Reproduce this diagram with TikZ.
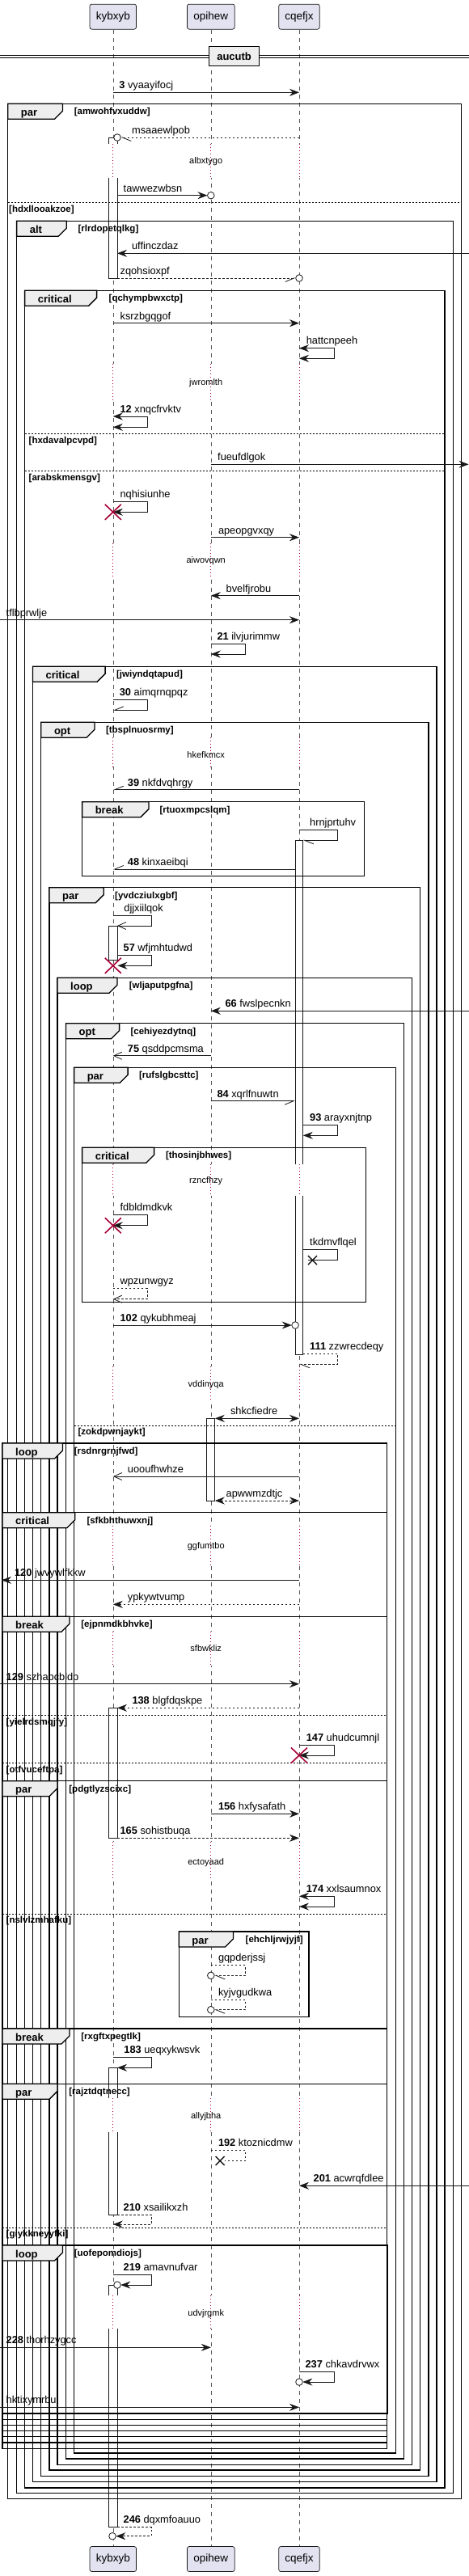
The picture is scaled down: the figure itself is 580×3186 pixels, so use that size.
\documentclass[tikz,border=0pt]{standalone}
\usepackage{fontspec}
\setmainfont{Liberation Sans}
\usetikzlibrary{arrows.meta}
\definecolor{partfill}{HTML}{E2E2F0}
\definecolor{tabfill}{HTML}{EEEEEE}
\definecolor{xred}{HTML}{A80036}
\definecolor{lline}{HTML}{181818}
\tikzset{
 lifeline/.style={draw=black!65, line width=0.6pt, dash pattern=on 5pt off 5pt},
 delayline/.style={draw=xred, line width=0.8pt, dash pattern=on 1pt off 3pt},
 part/.style={draw=lline, line width=0.7pt, fill=partfill, rounded corners=2.5pt, minimum height=31pt, inner sep=0pt, font=\fontsize{13.5}{15}\selectfont},
 msg/.style={draw=lline, line width=0.8pt},
 dmsg/.style={msg, dash pattern=on 2.5pt off 2.5pt},
 fa/.style={-{Stealth[length=12pt,width=9pt,inset=4pt]}},
 fab/.style={{Stealth[length=12pt,width=9pt,inset=4pt]}-{Stealth[length=12pt,width=9pt,inset=4pt]}},
 oa/.style={-{Straight Barb[length=10pt,width=9pt]}},
 hal/.style={-{Straight Barb[length=11pt,width=9pt,left]}},
 har/.style={-{Straight Barb[length=11pt,width=9pt,right]}},
 lbl/.style={anchor=base west, inner sep=0pt, font=\fontsize{12.8}{15}\selectfont},
 act/.style={draw=lline, line width=0.8pt, fill=white},
 frline/.style={draw=black, line width=1.3pt},
 elseline/.style={draw=black, line width=0.8pt, dash pattern=on 2pt off 2pt},
 tablbl/.style={anchor=base west, inner sep=0pt, font=\bfseries\fontsize{13}{15}\selectfont},
 condlbl/.style={anchor=base west, inner sep=0pt, font=\bfseries\fontsize{11.5}{13}\selectfont},
 dlbl/.style={inner sep=0pt, font=\fontsize{11}{13}\selectfont},
 circ/.style={draw=lline, line width=0.8pt, fill=white},
}
% frame: x0,y0,x1,y1,tabright,tablabel,cond,condx
\newcommand\frm[8]{%
 \draw[frline] (#1,#2) rectangle (#3,#4);
 \draw[frline,fill=tabfill] (#1,#2) -- (#5,#2) -- (#5,#2+9) -- (#5-10,#2+19) -- (#1,#2+19) -- cycle;
 \node[tablbl] at (#1+16,#2+15) {#6};
 \node[condlbl] at (#8,#2+13.5) {[#7]};
}
% else: x0,x1,y,labelx,text
\newcommand\elsel[5]{%
 \draw[elseline] (#1,#3) -- (#2,#3);
 \node[condlbl] at (#4,#3+11.5) {[#5]};
}
% delay: y0,y1,ytext,text
\newcommand\dly[4]{%
 \foreach \xx in {139.8,260.8,370} {
  \fill[white] (\xx-6,#1) rectangle (\xx+6,#2);
  \draw[delayline] (\xx,#1) -- (\xx,#2);
 }
 \node[dlbl] at (254.7,#3) {#4};
}
\newcommand\selfm[6]{\draw[#1] (#2,#3) -- (#4,#3) -- (#4,#5) -- (#6,#5);}
\newcommand\redx[2]{\draw[xred, line width=1.6pt] (#1-10,#2-9.5) -- (#1+10,#2+9.5) (#1-10,#2+9.5) -- (#1+10,#2-9.5);}
\newcommand\lostx[2]{\draw[lline, line width=1.4pt] (#1-5.5,#2-5.5) -- (#1+5.5,#2+5.5) (#1-5.5,#2+5.5) -- (#1+5.5,#2-5.5);}
\begin{document}
\begin{tikzpicture}[x=1pt,y=-1pt]
\useasboundingbox (0,0) rectangle (580,3186);
\fill[white] (0,0) rectangle (580,3186);
% participants
\node[part, minimum width=57.5pt] (pA) at (139.8,20.65) {kybxyb};
\node[part, minimum width=58.7pt] (pB) at (260.8,20.65) {opihew};
\node[part, minimum width=50.5pt] (pC) at (370,20.65) {cqefjx};
\node[part, minimum width=57.5pt] (qA) at (139.8,3165) {kybxyb};
\node[part, minimum width=58.7pt] (qB) at (260.8,3165) {opihew};
\node[part, minimum width=50.5pt] (qC) at (370,3165) {cqefjx};
\draw[lifeline] (pA.south) -- (qA.north);
\draw[lifeline] (pB.south) -- (qB.north);
\draw[lifeline] (pC.south) -- (qC.north);
% divider
\draw[line width=0.9pt] (0,68.3) -- (580,68.3) (0,71.7) -- (580,71.7);
\node[draw, line width=1.5pt, fill=tabfill, minimum width=62pt, minimum height=24.4pt, inner sep=0pt, font=\bfseries\fontsize{13}{15}\selectfont] (dv) at (289.6,69.5) {aucutb};
% activations
\draw[act] (134.5,170) rectangle (145,344);
\draw[act] (134.5,1145) rectangle (145,1187.3);
\draw[act] (134.5,2112.3) rectangle (145,2273.3);
\draw[act] (134.5,2557.3) rectangle (145,2739.3);
\draw[act] (134.5,2826) rectangle (145,3125.7);
\draw[act] (365.1,1039.3) rectangle (374.8,1675.3);
\draw[act] (255.8,1754.3) rectangle (265.8,1856.7);
% delays
\dly{178.3}{220}{200}{albxtygo}
\dly{450}{495}{473.3}{jwromlth}
\dly{671.7}{713.3}{693.3}{aiwovqwn}
\dly{911.7}{948.3}{933.3}{hkefkmcx}
\dly{1440}{1479}{1460.7}{rzncfhzy}
\dly{1690}{1731.7}{1712.3}{vddinyqa}
\dly{1886.7}{1936.7}{1912.3}{ggfumtbo}
\dly{2018.3}{2060}{2039}{sfbwkliz}
\dly{2278.3}{2323.3}{2303.3}{ectoyaad}
\dly{2595}{2637.3}{2617.3}{allyjbha}
\dly{2839}{2880}{2861.7}{udvjrgmk}
% frames
\frm{9.7}{128.3}{570.7}{3090.7}{77.4}{par}{amwohfvxuddw}{91.6}
\elsel{9.7}{570.7}{250.7}{11}{hdxllooakzoe}
\frm{20.6}{273.3}{560.6}{3083.7}{82.2}{alt}{rlrdopetqlkg}{96.4}
\frm{30.6}{359.3}{550.1}{3077}{119.6}{critical}{qchympbwxctp}{134.5}
\elsel{30.6}{550.1}{536.7}{35.5}{hxdavalpcvpd}
\elsel{30.6}{550.1}{582.7}{35.5}{arabskmensgv}
\frm{40.4}{824.3}{540}{3069.3}{130.1}{critical}{jwiyndqtapud}{143.9}
\frm{50.8}{893.3}{529.9}{3062.7}{117}{opt}{tbsplnuosrmy}{130.8}
\frm{101.6}{991.7}{450.3}{1083.3}{183.9}{break}{rtuoxmpcslqm}{197.3}
\frm{60.9}{1097.7}{519.5}{3055}{128.2}{par}{yvdcziulxgbf}{142}
\frm{71}{1209.3}{509.4}{3048.3}{145}{loop}{wljaputpgfna}{159.6}
\frm{81.5}{1265.7}{499.3}{3041}{147.6}{opt}{cehiyezdytnq}{161.4}
\frm{91.6}{1320.3}{489.2}{3034}{158.1}{par}{rufslgbcsttc}{171.9}
\frm{101.6}{1419.3}{452.2}{1610.7}{190.6}{critical}{thosinjbhwes}{204.8}
\elsel{91.6}{489.2}{1763.3}{96.4}{zokdpwnjaykt}
\frm{3}{1785}{478.4}{3028.2}{77.4}{loop}{rsdnrgrnjfwd}{91.6}
\frm{3}{1870.7}{478.4}{3021}{92.7}{critical}{sfkbhthuwxnj}{107.3}
\frm{3}{1999.3}{478.4}{3013.8}{86}{break}{ejpnmdkbhvke}{100.2}
\elsel{3}{478.4}{2121.7}{7.5}{yielrdsmqjfy}
\elsel{3}{478.4}{2180.7}{7.5}{otfvuceftpa}
\frm{3}{2202.7}{478.4}{3006.6}{71}{par}{pdgtlyzscixc}{85.2}
\elsel{3}{478.4}{2367.3}{7.5}{nslvlzmhafku}
\frm{221.2}{2389}{381.9}{2494.3}{288.5}{par}{ehchljrwjyjf}{303.5}
\frm{3}{2509}{478.4}{2999.4}{86}{break}{rxgftxpegtlk}{100.2}
\frm{3}{2577.3}{478.4}{2992.2}{71}{par}{rajztdqtnecc}{85.2}
\elsel{3}{478.4}{2755.3}{7.5}{giykkneyyfki}
\frm{3}{2777}{479.5}{2985}{77.4}{loop}{uofepomdiojs}{91.6}
% messages
\draw[msg,fa] (139.8,114.3) -- (370,114.3);
\node[lbl] at (147.2,109.8) {\textbf{3} vyaayifocj};
\draw[dmsg,hal] (370,170) -- (149.3,170);
\draw[circ] (145,170) circle (4.3);
\node[lbl] at (162.9,165.5) {msaaewlpob};
\draw[msg,fa] (145,241.7) -- (256.5,241.7);
\draw[circ] (260.8,241.7) circle (4.3);
\node[lbl] at (152.5,237.2) {tawwezwbsn};
\draw[msg,fa] (580,313.3) -- (145,313.3);
\node[lbl] at (162.9,308.8) {uffinczdaz};
\draw[dmsg,har] (145,344) -- (365.7,344);
\draw[circ] (370,344) circle (4.3);
\node[lbl] at (148.4,339.5) {zqohsioxpf};
\draw[msg,fa] (139.8,399.7) -- (370,399.7);
\node[lbl] at (148.4,395.2) {ksrzbgqgof};
\selfm{msg,fab}{370}{430.7}{413}{443.3}{370}
\node[lbl] at (378.6,425.7) {hattcnpeeh};
\selfm{msg,fab}{139.8}{515}{182.4}{528.3}{139.8}
\node[lbl] at (148.4,510) {\textbf{12} xnqcfrvktv};
\draw[msg,fa] (260.8,574.3) -- (579.5,574.3);
\node[lbl] at (269,569.8) {fueufdlgok};
\selfm{msg,fa}{139.8}{620}{182.4}{633.3}{139.8}
\redx{139.8}{633.3}
\node[lbl] at (148.4,615) {nqhisiunhe};
\draw[msg,fa] (260.8,664.7) -- (370,664.7);
\node[lbl] at (269.8,660.2) {apeopgvxqy};
\draw[msg,fa] (370,736.7) -- (260.8,736.7);
\node[lbl] at (279.5,732.2) {bvelfjrobu};
\draw[msg,fa] (0,766.7) -- (370,766.7);
\node[lbl] at (7.5,762.2) {tflbprwlje};
\selfm{msg,fa}{260.8}{796.7}{303.5}{809}{260.8}
\node[lbl] at (268.3,791.7) {\textbf{21} ilvjurimmw};
\selfm{msg,har}{139.8}{865.7}{182.4}{878.3}{139.8}
\node[lbl] at (147.6,860.7) {\textbf{30} aimqrnqpqz};
\draw[msg,har] (370,976.7) -- (139.8,976.7);
\node[lbl] at (157.7,972.2) {\textbf{39} nkfdvqhrgy};
\selfm{msg,hal}{370}{1026}{417.8}{1039.3}{374.8}
\node[lbl] at (383,1021) {hrnjprtuhv};
\draw[msg,har] (365.1,1075) -- (139.8,1075);
\node[lbl] at (157.7,1070.5) {\textbf{48} kinxaeibqi};
\selfm{msg,oa}{139.8}{1132.3}{186.9}{1145}{145}
\node[lbl] at (153.2,1127.3) {djjxiilqok};
\selfm{msg,fa}{145}{1181.7}{186.9}{1194.3}{145.5}
\redx{139.8}{1194.3}
\node[lbl] at (152.5,1176.7) {\textbf{57} wfjmhtudwd};
\draw[msg,fa] (580,1250.3) -- (260.8,1250.3);
\node[lbl] at (278.4,1245.8) {\textbf{66} fwslpecnkn};
\draw[msg,oa] (260.8,1305.7) -- (139.8,1305.7);
\node[lbl] at (157.7,1301.2) {\textbf{75} qsddpcmsma};
\draw[msg,har] (260.8,1361.7) -- (365.1,1361.7);
\node[lbl] at (268.3,1357.2) {\textbf{84} xqrlfnuwtn};
\selfm{msg,fa}{374.8}{1391.7}{417.8}{1404.3}{374.8}
\node[lbl] at (383,1386.7) {\textbf{93} arayxnjtnp};
\selfm{msg,fa}{139.8}{1502.3}{182.4}{1515.7}{139.8}
\redx{139.8}{1515.7}
\node[lbl] at (148.4,1497.3) {fdbldmdkvk};
\selfm{msg}{374.8}{1545.7}{417.8}{1558.6}{381}
\lostx{386.4}{1558.6}
\node[lbl] at (383,1540.7) {tkdmvflqel};
\selfm{dmsg,oa}{139.8}{1593.3}{182}{1606.7}{139.8}
\node[lbl] at (148.4,1588.3) {wpzunwgyz};
\draw[msg,fa] (139.8,1639) -- (360.8,1639);
\draw[circ] (365.1,1639) circle (4.3);
\node[lbl] at (148.4,1634.5) {\textbf{102} qykubhmeaj};
\selfm{dmsg,hal}{374.8}{1674.3}{417.8}{1687.3}{370}
\node[lbl] at (383,1669.3) {\textbf{111} zzwrecdeqy};
\draw[msg,fab] (265.8,1754.3) -- (370,1754.3);
\node[lbl] at (284.8,1749.8) {shkcfiedre};
\draw[msg,oa] (370,1826) -- (139.8,1826);
\node[lbl] at (157.7,1821.5) {uooufhwhze};
\draw[dmsg,fab] (265.8,1856) -- (370,1856);
\node[lbl] at (279.5,1851.5) {apwwmzdtjc};
\draw[msg,fa] (370,1954.3) -- (2,1954.3);
\node[lbl] at (17.9,1949.8) {\textbf{120} jwvywlfkkw};
\draw[dmsg,fa] (370,1984.3) -- (139.8,1984.3);
\node[lbl] at (157.7,1979.8) {ypkywtvump};
\draw[msg,fa] (0,2082.7) -- (370,2082.7);
\node[lbl] at (7.5,2078.2) {\textbf{129} szhabcbldp};
\draw[dmsg,fa] (370,2112.3) -- (145,2112.3);
\node[lbl] at (163.3,2107.8) {\textbf{138} blgfdqskpe};
\selfm{msg,fa}{370}{2158.3}{413}{2171}{370}
\redx{370}{2171}
\node[lbl] at (378.6,2153.3) {\textbf{147} uhudcumnjl};
\draw[msg,fa] (260.8,2243.3) -- (370,2243.3);
\node[lbl] at (269.8,2238.8) {\textbf{156} hxfysafath};
\draw[dmsg,fa] (145,2273.3) -- (370,2273.3);
\node[lbl] at (148.4,2268.8) {\textbf{165} sohistbuqa};
\selfm{msg,fab}{370}{2345.3}{413}{2358}{370}
\node[lbl] at (378.6,2340.3) {\textbf{174} xxlsaumnox};
\selfm{dmsg,hal}{260.8}{2430.7}{303.5}{2443.3}{265.1}
\draw[circ] (260.8,2443.3) circle (4.3);
\node[lbl] at (269.8,2425.7) {gqpderjssj};
\selfm{dmsg,hal}{260.8}{2473.3}{303.5}{2485.7}{265.1}
\draw[circ] (260.8,2485.7) circle (4.3);
\node[lbl] at (269.8,2468.3) {kyjvgudkwa};
\selfm{msg,fa}{139.8}{2544.3}{186.9}{2557.3}{145}
\node[lbl] at (153.2,2539.3) {\textbf{183} ueqxykwsvk};
\selfm{dmsg}{260.8}{2659.3}{303.5}{2672.3}{278}
\lostx{272.2}{2672.5}
\node[lbl] at (269.8,2654.3) {\textbf{192} ktoznicdmw};
\draw[msg,fa] (580,2703.3) -- (370,2703.3);
\node[lbl] at (387.5,2698.8) {\textbf{201} acwrqfdlee};
\selfm{dmsg,fa}{145}{2739.3}{186.9}{2751}{139.8}
\node[lbl] at (152.5,2734.3) {\textbf{210} xsailikxzh};
\selfm{msg,fa}{139.8}{2813.3}{186.9}{2826}{149.3}
\draw[circ] (145,2826) circle (4.3);
\node[lbl] at (152.5,2808.3) {\textbf{219} amavnufvar};
\draw[msg,fa] (0,2903.3) -- (260.8,2903.3);
\node[lbl] at (7.5,2898.8) {\textbf{228} thorhzygcc};
\selfm{msg,fa}{370}{2933.3}{413}{2946}{374.3}
\draw[circ] (370,2946) circle (4.3);
\node[lbl] at (377.4,2928.3) {\textbf{237} chkavdrvwx};
\draw[msg,fa] (0,2977.3) -- (370,2977.3);
\node[lbl] at (7.5,2972.8) {hktixymrbu};
\selfm{dmsg,fa}{145}{3125.7}{186.9}{3136.7}{143.3}
\draw[circ] (139,3136.7) circle (4.3);
\node[lbl] at (152.5,3120.7) {\textbf{246} dqxmfoauuo};
\end{tikzpicture}
\end{document}
